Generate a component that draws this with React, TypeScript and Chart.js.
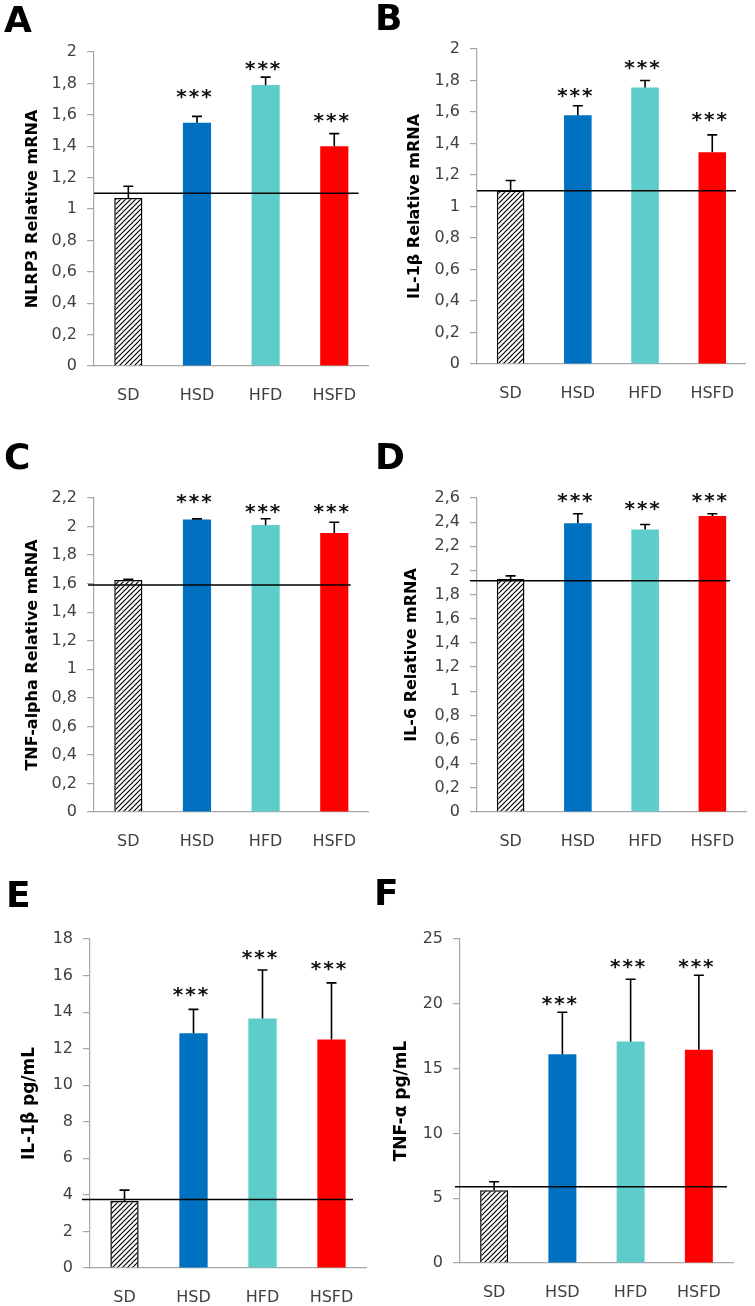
import { useEffect, useRef } from "react";
import { Chart, registerables } from "chart.js";

Chart.register(...registerables);

// ---------- DATA ----------
const categories = ["SD", "HSD", "HFD", "HSFD"];

const nlrp3Values = [1.07, 1.55, 1.79, 1.4];
const nlrp3Errors = [0.075, 0.04, 0.05, 0.08];
const nlrp3Ref = 1.1;
const nlrp3Stars = [null, 1.73, 1.91, 1.58];

const il1bValues = [1.1, 1.58, 1.755, 1.345];
const il1bErrors = [0.065, 0.06, 0.045, 0.11];
const il1bRef = 1.1;
const il1bStars = [null, 1.72, 1.9, 1.57];

const tnfValues = [1.625, 2.05, 2.01, 1.955];
const tnfErrors = [0.005, 0.004, 0.045, 0.075];
const tnfRef = 1.59;
const tnfStars = [null, 2.19, 2.125, 2.125];

const il6Values = [1.93, 2.39, 2.34, 2.45];
const il6Errors = [0.025, 0.08, 0.04, 0.02];
const il6Ref = 1.915;
const il6Stars = [null, 2.6, 2.535, 2.6];

const il1bSerumValues = [3.66, 12.85, 13.65, 12.5];
const il1bSerumErrors = [0.6, 1.3, 2.65, 3.1];
const il1bSerumRef = 3.75;
const il1bSerumStars = [null, 15.1, 17.1, 16.5];

const tnfSerumValues = [5.62, 16.1, 17.1, 16.45];
const tnfSerumErrors = [0.65, 3.25, 4.8, 5.75];
const tnfSerumRef = 5.88;
const tnfSerumStars = [null, 20.2, 23.1, 23.1];

const starLabel = "***";

// ---------- STYLE / LAYOUT ----------
const barColors = ["#FFFFFF", "#0070C0", "#5CCDC9", "#FF0000"];
const axisGray = "#A6A6A6";
const labelGray = "#404040";
const FONT = "'DejaVu Sans', 'Liberation Sans', Arial, sans-serif";

type Panel = {
  letter: string;
  title: string;
  values: number[];
  errors: number[];
  ref: number;
  stars: (number | null)[];
  max: number;
  step: number;
  canvas: { left: number; top: number; w: number; h: number };
  plot: { left: number; top: number; right: number; bottom: number };
  letterPos: { left: number; top: number };
  titleX: number;
  titleSize: number;
  lineFrom: number;
  lineTo: number;
};

const panels: Panel[] = [
  {
    letter: "A", title: "NLRP3 Relative mRNA",
    values: nlrp3Values, errors: nlrp3Errors, ref: nlrp3Ref, stars: nlrp3Stars, max: 2, step: 0.2,
    canvas: { left: 0, top: 0, w: 377, h: 420 },
    plot: { left: 94, top: 52, right: 370, bottom: 366 },
    letterPos: { left: 4, top: 2 }, titleX: 33, titleSize: 16, lineFrom: 0, lineTo: 10,
  },
  {
    letter: "B", title: "IL-1\u03b2 Relative mRNA",
    values: il1bValues, errors: il1bErrors, ref: il1bRef, stars: il1bStars, max: 2, step: 0.2,
    canvas: { left: 377, top: 0, w: 378, h: 420 },
    plot: { left: 477, top: 49, right: 748, bottom: 364 },
    letterPos: { left: 375, top: 0 }, titleX: 415, titleSize: 16, lineFrom: 0, lineTo: 10,
  },
  {
    letter: "C", title: "TNF-alpha Relative mRNA",
    values: tnfValues, errors: tnfErrors, ref: tnfRef, stars: tnfStars, max: 2.2, step: 0.2,
    canvas: { left: 0, top: 420, w: 377, h: 440 },
    plot: { left: 94, top: 498, right: 370, bottom: 812 },
    letterPos: { left: 4, top: 439 }, titleX: 33, titleSize: 16, lineFrom: 6, lineTo: 18,
  },
  {
    letter: "D", title: "IL-6 Relative mRNA",
    values: il6Values, errors: il6Errors, ref: il6Ref, stars: il6Stars, max: 2.6, step: 0.2,
    canvas: { left: 377, top: 420, w: 378, h: 440 },
    plot: { left: 477, top: 498, right: 749, bottom: 812 },
    letterPos: { left: 375, top: 439 }, titleX: 412, titleSize: 16, lineFrom: 7, lineTo: 16,
  },
  {
    letter: "E", title: "IL-1\u03b2 pg/mL",
    values: il1bSerumValues, errors: il1bSerumErrors, ref: il1bSerumRef, stars: il1bSerumStars, max: 18, step: 2,
    canvas: { left: 0, top: 860, w: 377, h: 446 },
    plot: { left: 90, top: 939, right: 366, bottom: 1268 },
    letterPos: { left: 6, top: 877 }, titleX: 30, titleSize: 17, lineFrom: 8, lineTo: 13,
  },
  {
    letter: "F", title: "TNF-\u03b1 pg/mL",
    values: tnfSerumValues, errors: tnfSerumErrors, ref: tnfSerumRef, stars: tnfSerumStars, max: 25, step: 5,
    canvas: { left: 377, top: 860, w: 378, h: 446 },
    plot: { left: 460, top: 939, right: 733, bottom: 1263 },
    letterPos: { left: 374, top: 875 }, titleX: 402, titleSize: 17, lineFrom: 5, lineTo: 6,
  },
];

function makeHatch(): CanvasPattern | string {
  const s = 5;
  const c = document.createElement("canvas");
  c.width = s;
  c.height = s;
  const g = c.getContext("2d");
  if (!g) return "#fff";
  g.fillStyle = "#fff";
  g.fillRect(0, 0, s, s);
  g.strokeStyle = "#000";
  g.lineWidth = 1.2;
  g.beginPath();
  g.moveTo(-1, s + 1);
  g.lineTo(s + 1, -1);
  g.moveTo(-1, 1);
  g.lineTo(1, -1);
  g.moveTo(s - 1, s + 1);
  g.lineTo(s + 1, s - 1);
  g.stroke();
  const p = g.createPattern(c, "repeat");
  return p || "#fff";
}

const X_HEIGHT = 40;

function PanelChart({ p }: { p: Panel }) {
  const ref = useRef<HTMLCanvasElement | null>(null);

  useEffect(() => {
    const canvas = ref.current;
    if (!canvas) return;
    const hatch = makeHatch();
    const yWidth = p.plot.left - p.canvas.left;
    const padTop = p.plot.top - p.canvas.top;
    const padRight = p.canvas.left + p.canvas.w - p.plot.right;
    const padBottom = p.canvas.top + p.canvas.h - p.plot.bottom - X_HEIGHT;
    const titleCenter = p.titleX - p.canvas.left;
    const titlePadTop = titleCenter - (p.titleSize * 1.2) / 2;

    const overlay = {
      id: "overlay" + p.letter,
      afterDatasetsDraw(chart: any) {
        const ctx = chart.ctx as CanvasRenderingContext2D;
        const ys = chart.scales.y;
        const meta = chart.getDatasetMeta(0);
        ctx.save();
        ctx.strokeStyle = "#000";
        ctx.lineWidth = 1.6;
        meta.data.forEach((bar: any, i: number) => {
          const v = p.values[i];
          const e = p.errors[i];
          const yb = ys.getPixelForValue(v);
          const yt = ys.getPixelForValue(v + e);
          ctx.beginPath();
          ctx.moveTo(bar.x, yb);
          ctx.lineTo(bar.x, yt);
          ctx.moveTo(bar.x - 5, yt);
          ctx.lineTo(bar.x + 5, yt);
          ctx.stroke();
        });
        const ry = ys.getPixelForValue(p.ref);
        ctx.lineWidth = 1.6;
        ctx.beginPath();
        ctx.moveTo(chart.chartArea.left - p.lineFrom, ry);
        ctx.lineTo(chart.chartArea.right - p.lineTo, ry);
        ctx.stroke();

        ctx.fillStyle = "#111";
        ctx.font = `bold 20px 'DejaVu Sans', sans-serif`;
        (ctx as any).letterSpacing = "2px";
        ctx.textAlign = "center";
        ctx.textBaseline = "alphabetic";
        const m = ctx.measureText(starLabel);
        const off = (m.actualBoundingBoxAscent - m.actualBoundingBoxDescent) / 2;
        meta.data.forEach((bar: any, i: number) => {
          const s = p.stars[i];
          if (s == null) return;
          const cy = ys.getPixelForValue(s);
          ctx.fillText(starLabel, bar.x - 2, cy + off);
        });
        ctx.restore();
      },
    };

    const chart = new Chart(canvas, {
      type: "bar",
      data: {
        labels: categories,
        datasets: [
          {
            data: p.values,
            backgroundColor: p.values.map((_, i) => (i === 0 ? hatch : barColors[i])) as any,
            borderColor: "#000",
            borderWidth: p.values.map((_, i) => (i === 0 ? 1.5 : 0)),
            barPercentage: 0.41,
            categoryPercentage: 1,
          },
        ],
      },
      options: {
        responsive: false,
        animation: false,
        devicePixelRatio: 1,
        layout: { padding: { left: 0, top: padTop, right: padRight, bottom: padBottom } },
        plugins: { legend: { display: false }, tooltip: { enabled: false }, title: { display: false } },
        scales: {
          x: {
            grid: { display: false, drawTicks: false },
            border: { display: true, color: axisGray, width: 1.2 },
            ticks: { color: labelGray, font: { family: FONT, size: 16 }, padding: 20 },
            afterFit: (s: any) => {
              s.height = X_HEIGHT;
            },
          },
          y: {
            min: 0,
            max: p.max,
            ticks: {
              stepSize: p.step,
              color: labelGray,
              font: { family: FONT, size: 16 },
              padding: 10,
              callback: (v: any) => String(Math.round(Number(v) * 100) / 100).replace(".", ","),
            },
            grid: { display: true, drawOnChartArea: false, drawTicks: true, tickLength: 7, color: axisGray, lineWidth: 1.2 },
            border: { display: true, color: axisGray, width: 1.2 },
            title: {
              display: true,
              text: p.title,
              color: "#000",
              font: { family: FONT, size: p.titleSize, weight: "bold" },
              padding: { top: titlePadTop, bottom: 0 },
            },
            afterFit: (s: any) => {
              s.width = yWidth;
            },
          },
        },
      },
      plugins: [overlay],
    });
    return () => chart.destroy();
  }, [p]);

  return (
    <canvas
      ref={ref}
      width={p.canvas.w}
      height={p.canvas.h}
      style={{
        position: "absolute",
        left: p.canvas.left,
        top: p.canvas.top,
        width: p.canvas.w,
        height: p.canvas.h,
      }}
    />
  );
}

export default function App() {
  return (
    <div
      style={{
        position: "absolute",
        left: 0,
        top: 0,
        width: 755,
        height: 1306,
        background: "#fff",
        overflow: "hidden",
      }}
    >
      {panels.map((p) => (
        <PanelChart key={p.letter} p={p} />
      ))}
      {panels.map((p) => (
        <div
          key={"L" + p.letter}
          style={{
            position: "absolute",
            left: p.letterPos.left,
            top: p.letterPos.top,
            fontFamily: FONT,
            fontWeight: "bold",
            fontSize: 36,
            lineHeight: "36px",
            color: "#000",
          }}
        >
          {p.letter}
        </div>
      ))}
    </div>
  );
}
